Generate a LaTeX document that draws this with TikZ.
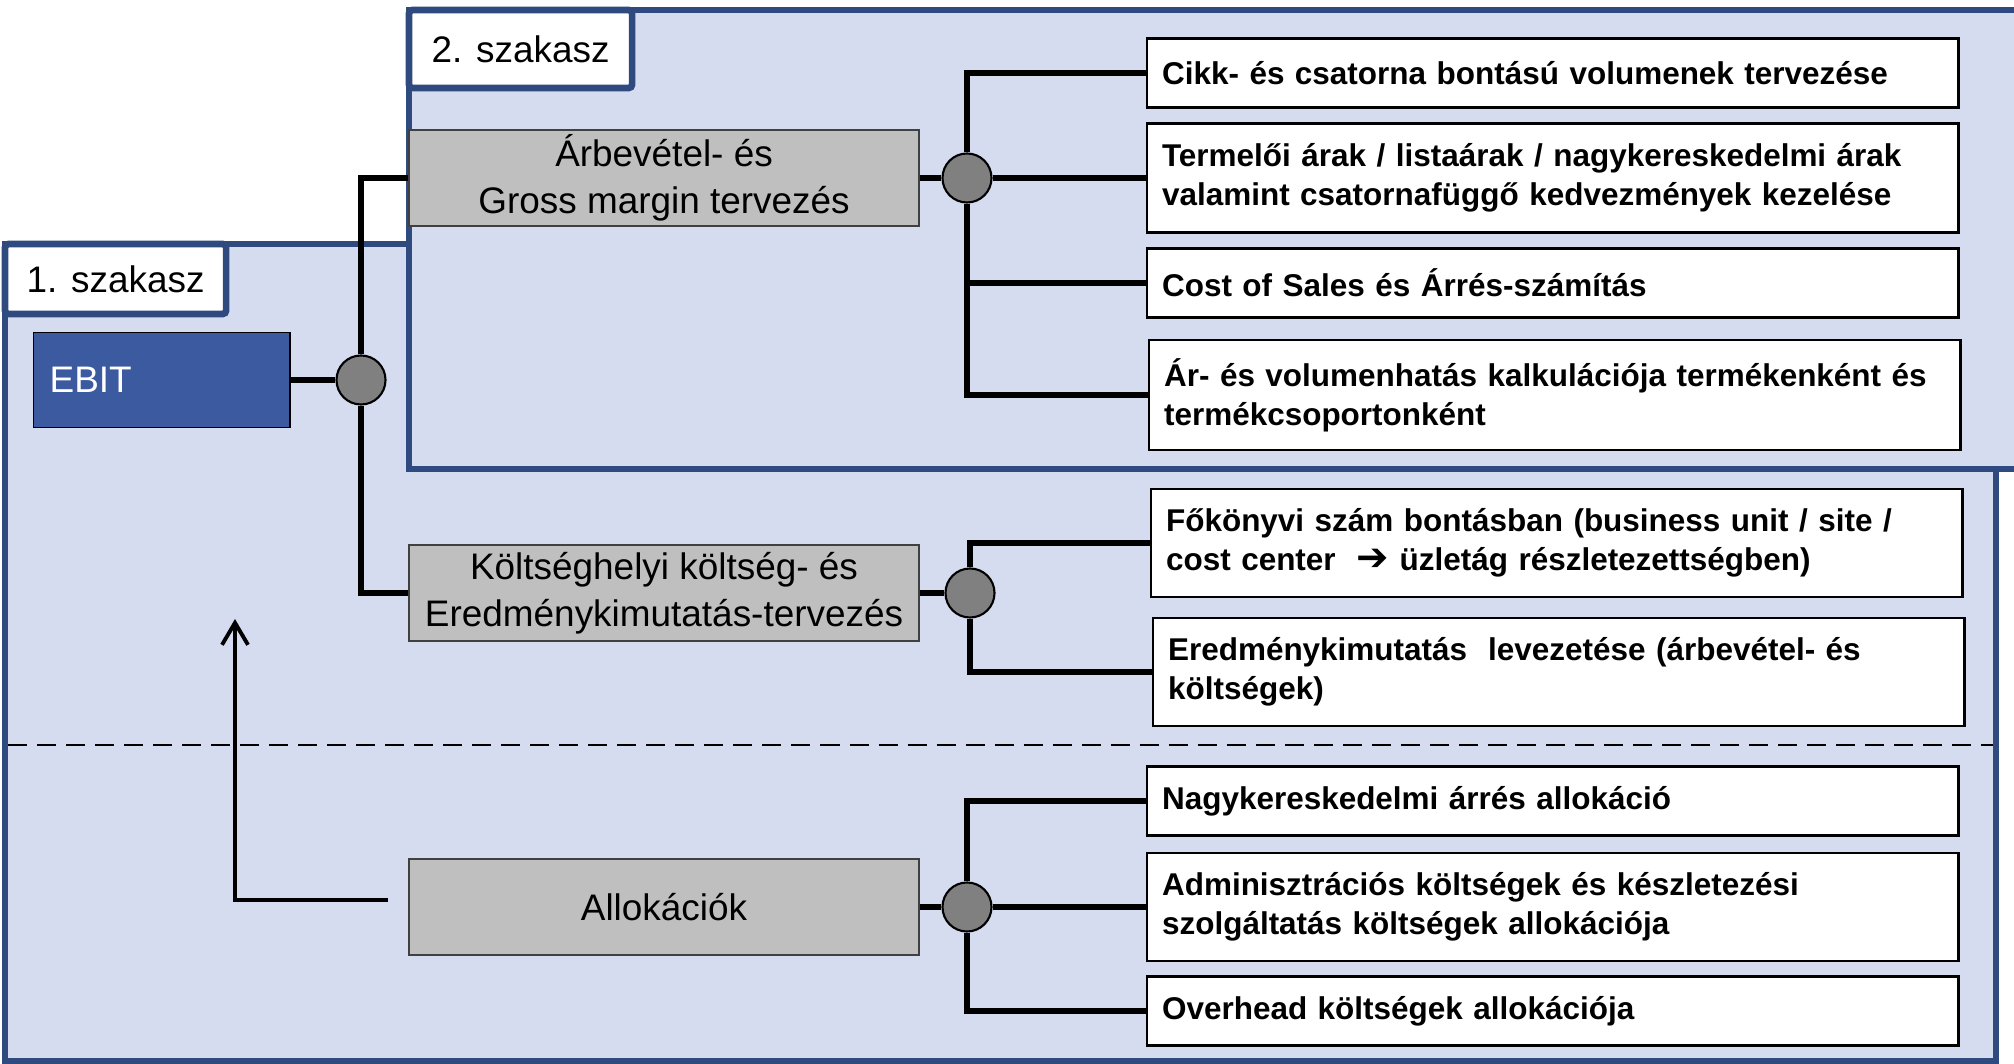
\documentclass[tikz,border=0pt]{standalone}
\usepackage{fontspec}
\setmainfont{Liberation Sans}
\newfontfamily\symfont{DejaVu Sans}
\usepackage{tikz}
\usepackage{xcolor}
\usetikzlibrary{arrows.meta}
\definecolor{panelfill}{HTML}{D6DCEF}
\definecolor{panelline}{HTML}{2F4A7F}
\definecolor{ebitfill}{HTML}{3C5AA0}
\definecolor{boxgray}{HTML}{BFBFBF}
\definecolor{hubgray}{HTML}{808080}
\tikzstyle{every node}=[font=\fontsize{10.5}{13.5}\selectfont]
\tikzstyle{stage} = [draw=panelline, fill=panelfill, line width=1.7pt]
\tikzstyle{tab} = [rectangle, draw=panelline, fill=white, line width=1.9pt, anchor=north west, outer sep=0pt, rounded corners=1pt]
\tikzstyle{ebitbox} = [rectangle, draw, fill=ebitfill, text=white, anchor=west, text width=2.24cm, inner xsep=0.16cm, minimum height=0.95cm, align=left]
\tikzstyle{mainbox} = [rectangle, draw=black!75, fill=boxgray, line width=0.5pt, align=center, minimum width=5.1cm, minimum height=0.96cm, anchor=west, inner sep=0pt]
\tikzstyle{taskbox} = [rectangle, draw, fill=white, line width=0.6pt, text width=7.81cm, inner xsep=0.15cm, align=left, anchor=west, font=\fontsize{8.95}{11}\selectfont\bfseries]
\tikzstyle{hub} = [circle, draw, fill=hubgray, line width=0.6pt, minimum size=0.49cm, inner sep=0pt]
\tikzstyle{line} = [draw, line width=1.7pt]
\tikzstyle{back} = [draw, line width=1.1pt, -{Straight Barb[length=0.22cm, width=0.26cm]}]

\begin{document}
\begin{tikzpicture}[x=0.01cm, y=-0.01cm]
    \useasboundingbox (0,0) rectangle (2014,1064);
    % Stages
    \path[stage] (5,244) rectangle (1996,1061);
    \fill[panelfill] (409,10) rectangle (2014,469);
    \draw[panelline, line width=1.7pt] (2014,10) -- (409,10) -- (409,469) -- (2014,469);
    \draw[line width=0.6pt, dash pattern=on 0.19cm off 0.1cm] (8,745) -- (1993,745);
    \node [tab, minimum width=2.21cm, minimum height=0.70cm] (tab1) at (5,244) {1. szakasz};
    \node [tab, minimum width=2.23cm, minimum height=0.78cm] (tab2) at (409,10) {2. szakasz};
    % Place nodes
    \node [ebitbox] (ebit) at (33,380) {EBIT};
    \node [hub] (hub1) at (361,380) {};
    \node [mainbox] (plan) at (408,178) {Árbevétel- és\\Gross margin tervezés};
    \node [mainbox] (cost) at (408,593) {Költséghelyi költség- és\\Eredménykimutatás-tervezés};
    \node [mainbox] (alloc) at (408,907) {Allokációk};
    \node [hub] (hub2) at (967,178) {};
    \node [hub] (hub3) at (970,593) {};
    \node [hub] (hub4) at (967,907) {};
    \node [taskbox, minimum height=0.69cm] (vol) at (1146,73) {Cikk- és csatorna bontású volumenek tervezése};
    \node [taskbox, minimum height=1.09cm] (price) at (1146,178) {Termelői árak / listaárak / nagykereskedelmi árak\\valamint csatornafüggő kedvezmények kezelése};
    \node [taskbox, minimum height=0.69cm] (cos) at (1146,283) {Cost of Sales és Árrés-számítás};
    \node [taskbox, minimum height=1.10cm] (effect) at (1148,395) {Ár- és volumenhatás kalkulációja termékenként és\\termékcsoportonként};
    \node [taskbox, minimum height=1.08cm] (ledger) at (1150,543) {Főkönyvi szám bontásban (business unit / site /\\cost center\ \ {\symfont\fontsize{11}{11}\selectfont ➔} üzletág részletezettségben)};
    \node [taskbox, minimum height=1.08cm] (pl) at (1152,672) {Eredménykimutatás\ \ levezetése (árbevétel- és\\költségek)};
    \node [taskbox, minimum height=0.69cm] (margin) at (1146,801) {Nagykereskedelmi árrés allokáció};
    \node [taskbox, minimum height=1.08cm] (admin) at (1146,907) {Adminisztrációs költségek és készletezési\\szolgáltatás költségek allokációja};
    \node [taskbox, minimum height=0.69cm] (overhead) at (1146,1011) {Overhead költségek allokációja};
    \coordinate (backstart) at (388,900);
    \coordinate (backend) at (235,619);
    % Draw edges
    \path [line] (ebit) -- (hub1);
    \path [line] (hub1) |- (plan.west);
    \path [line] (hub1) |- (cost.west);
    \path [line] (plan) -- (hub2);
    \path [line] (hub2) |- (vol.west);
    \path [line] (hub2) -- (price.west);
    \path [line] (hub2) |- (cos.west);
    \path [line] (hub2) |- (effect.west);
    \path [line] (cost) -- (hub3);
    \path [line] (hub3) |- (ledger.west);
    \path [line] (hub3) |- (pl.west);
    \path [line] (alloc) -- (hub4);
    \path [line] (hub4) |- (margin.west);
    \path [line] (hub4) -- (admin.west);
    \path [line] (hub4) |- (overhead.west);
    \path [back] (backstart) -| (backend);
\end{tikzpicture}
\end{document}
